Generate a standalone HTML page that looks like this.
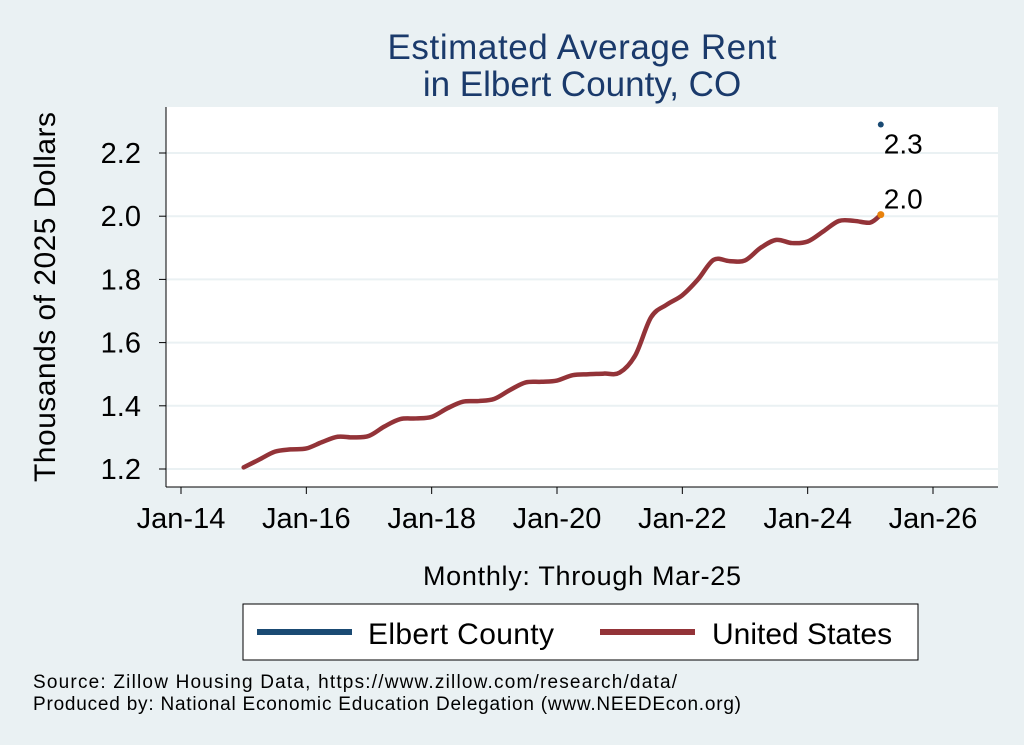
<!DOCTYPE html>
<html><head><meta charset="utf-8"><style>
body{margin:0;background:#eaf1f3;font-family:"Liberation Sans",sans-serif;}
svg{display:block}
</style></head><body>
<svg width="1024" height="745">
<rect x="0" y="0" width="1024" height="745" fill="#eaf1f3"/>
<rect x="166" y="107" width="832" height="380" fill="#fff"/>
<text x="582" y="59" text-anchor="middle" font-size="35" fill="#1a3a6b" textLength="389">Estimated Average Rent</text>
<text x="582" y="96" text-anchor="middle" font-size="35" fill="#1a3a6b">in Elbert County, CO</text>
<g id="grid"></g>
<g id="axes"></g>
<path id="us-line" fill="none" stroke="#933338" stroke-width="4.5" stroke-linecap="round"/>
<g id="marks"></g>
<text x="55" y="297" transform="rotate(-90 55 297)" text-anchor="middle" font-size="30" fill="#000" textLength="370">Thousands of 2025 Dollars</text>
<text x="582" y="585" text-anchor="middle" font-size="27" fill="#000" textLength="318">Monthly: Through Mar-25</text>
<g>
<rect x="243" y="604" width="675" height="56" fill="#fff" stroke="#000" stroke-width="1"/>
<line x1="257" y1="632" x2="352" y2="632" stroke="#1a4a73" stroke-width="6"/>
<text x="368" y="644" font-size="30" textLength="186">Elbert County</text>
<line x1="600" y1="632" x2="695" y2="632" stroke="#933338" stroke-width="6"/>
<text x="712" y="644" font-size="30">United States</text>
</g>
<text x="33" y="688" font-size="19" textLength="644">Source: Zillow Housing Data, https://www.zillow.com/research/data/</text>
<text x="33" y="710" font-size="19" textLength="708">Produced by: National Economic Education Delegation (www.NEEDEcon.org)</text>
</svg>
<script>
const yTicks=[1.2,1.4,1.6,1.8,2.0,2.2];
const yTickLabels=["1.2","1.4","1.6","1.8","2.0","2.2"];
const xTickYears=[2014,2016,2018,2020,2022,2024,2026];
const xTickLabels=["Jan-14","Jan-16","Jan-18","Jan-20","Jan-22","Jan-24","Jan-26"];
const usDates=[2015.0,2015.25,2015.5,2015.75,2016.0,2016.25,2016.5,2016.75,2017.0,2017.25,2017.5,2017.75,2018.0,2018.25,2018.5,2018.75,2019.0,2019.25,2019.5,2019.75,2020.0,2020.25,2020.5,2020.75,2021.0,2021.25,2021.5,2021.75,2022.0,2022.25,2022.5,2022.75,2023.0,2023.25,2023.5,2023.75,2024.0,2024.25,2024.5,2024.75,2025.0,2025.167];
const usValues=[1.205,1.23,1.255,1.262,1.265,1.285,1.302,1.300,1.305,1.335,1.358,1.360,1.365,1.392,1.413,1.415,1.422,1.450,1.474,1.476,1.480,1.497,1.500,1.502,1.505,1.56,1.68,1.72,1.75,1.80,1.862,1.858,1.860,1.900,1.925,1.915,1.920,1.952,1.985,1.985,1.980,2.005];
const elbertDates=[2025.167];
const elbertValues=[2.29];
const endLabels=["2.3","2.0"];
const X=y=>181+(y-2014)*(752/12);
const Y=v=>469-(v-1.2)*(316/1.0);
const ns="http://www.w3.org/2000/svg";
function mk(t,a,p){const e=document.createElementNS(ns,t);for(const k in a)e.setAttribute(k,a[k]);p.appendChild(e);return e;}
const grid=document.getElementById('grid'),axes=document.getElementById('axes'),marks=document.getElementById('marks');
yTicks.forEach((v,i)=>{
 const g=mk('line',{x1:166,x2:998,y1:Y(v),y2:Y(v),stroke:'#eaf1f3','stroke-width':2},grid);
 
 
 const t=mk('line',{x1:159,x2:166,y1:Y(v),y2:Y(v),stroke:'#000'},axes);
 
 
 const l=mk('text',{x:141,y:Y(v)+10,'text-anchor':'end','font-size':29},axes);
 l.textContent=yTickLabels[i];
 
 
});
const ya=mk('line',{x1:166,x2:166,y1:107,y2:487,stroke:'#000'},axes);


const xa=mk('line',{x1:166,x2:998,y1:487,y2:487,stroke:'#000'},axes);


xTickYears.forEach((yr,i)=>{
 const t=mk('line',{x1:X(yr),x2:X(yr),y1:487,y2:494,stroke:'#000'},axes);
 
 
 const l=mk('text',{x:X(yr),y:528,'text-anchor':'middle','font-size':29},axes);
 l.textContent=xTickLabels[i];
 
 
});
const pts=usDates.map((d,i)=>[X(d),Y(usValues[i])]);
let d='M'+pts[0][0]+','+pts[0][1];
for(let i=0;i<pts.length-1;i++){
 const p0=pts[Math.max(0,i-1)],p1=pts[i],p2=pts[i+1],p3=pts[Math.min(pts.length-1,i+2)];
 const c1=[p1[0]+(p2[0]-p0[0])/6,p1[1]+(p2[1]-p0[1])/6],c2=[p2[0]-(p3[0]-p1[0])/6,p2[1]-(p3[1]-p1[1])/6];
 d+=' C'+c1+' '+c2+' '+p2;
}
document.getElementById('us-line').setAttribute('d',d);
const last=usDates.length-1;
const ud=mk('circle',{cx:X(usDates[last]),cy:Y(usValues[last]),r:3.5,fill:'#e8820c'},marks);


const ul=mk('text',{x:X(usDates[last])+3,y:Y(usValues[last])-6,'font-size':28},marks);
ul.textContent=endLabels[1];


elbertDates.forEach((dt,i)=>{
 const c=mk('circle',{cx:X(dt),cy:Y(elbertValues[i]),r:3,fill:'#1a4a73'},marks);
 
 
 const l=mk('text',{x:X(dt)+3,y:Y(elbertValues[i])+29,'font-size':28},marks);
 l.textContent=endLabels[0];
 
 
});
</script>
</body></html>
